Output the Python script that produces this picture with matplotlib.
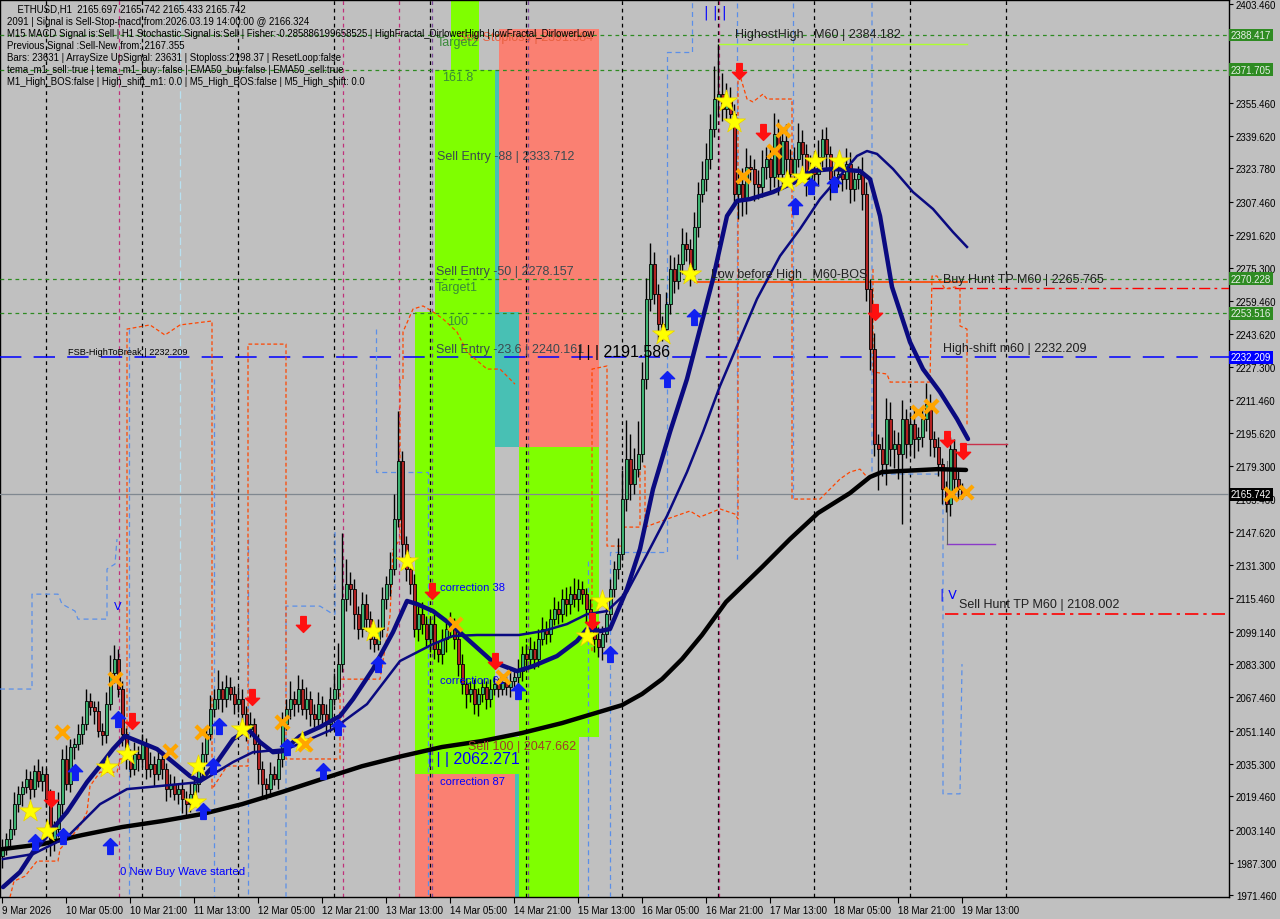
import numpy as np
import matplotlib.pyplot as plt
from matplotlib.path import Path
from matplotlib.patches import Rectangle
import matplotlib.transforms as mtransforms

# ETHUSD H1 candles, 9 Mar 13:00 -> 19 Mar 14:00 (one per hour)
first_open = 1990.5
closes = [
    1994.8, 1998.7, 2003.5, 2015.6, 2020.5, 2023.9, 2027.8, 2022.9, 2031.6, 2026.8,
    2030.2, 2018.1, 1998.7, 2003.5, 2015.6, 2037.5, 2025.3, 2043.3, 2044.7, 2049.6,
    2054.4, 2065.6, 2062.7, 2060.7, 2051.0, 2049.1, 2064.1, 2079.1, 2085.9, 2071.4,
    2049.6, 2037.5, 2032.6, 2039.9, 2037.5, 2044.7, 2032.6, 2035.0, 2030.2, 2037.5,
    2032.6, 2022.9, 2025.3, 2020.5, 2022.9, 2018.1, 2015.6, 2020.5, 2025.3, 2032.6,
    2039.9, 2049.6, 2061.7, 2066.5, 2071.4, 2066.5, 2072.4, 2069.0, 2064.1, 2066.5,
    2059.3, 2052.0, 2054.4, 2044.7, 2032.6, 2025.3, 2022.9, 2030.2, 2027.8, 2037.5,
    2054.4, 2061.7, 2066.5, 2064.1, 2071.4, 2061.7, 2066.5, 2059.3, 2056.8, 2064.1,
    2059.3, 2054.4, 2066.5, 2071.4, 2083.5, 2115.0, 2122.3, 2119.9, 2107.7, 2100.5,
    2112.6, 2105.3, 2095.6, 2093.2, 2100.5, 2115.0, 2122.3, 2129.6, 2153.8, 2182.0,
    2141.7, 2129.6, 2122.3, 2100.5, 2107.7, 2102.9, 2095.6, 2102.9, 2090.8, 2088.4,
    2095.6, 2100.5, 2102.9, 2095.6, 2083.5, 2073.8, 2069.0, 2071.4, 2064.1, 2069.0,
    2072.4, 2066.5, 2071.4, 2073.8, 2071.4, 2074.8, 2072.4, 2075.3, 2077.2, 2080.1,
    2088.4, 2085.9, 2090.8, 2085.9, 2095.6, 2100.5, 2098.1, 2105.3, 2110.2, 2107.7,
    2115.0, 2112.6, 2117.4, 2115.0, 2119.9, 2117.4, 2110.2, 2102.9, 2095.6, 2091.7,
    2098.1, 2107.7, 2119.9, 2129.6, 2136.8, 2163.5, 2182.9, 2170.8, 2178.0, 2185.3,
    2221.7, 2260.5, 2277.4, 2262.9, 2248.3, 2245.9, 2258.0, 2275.0, 2269.2, 2277.4,
    2287.1, 2284.7, 2275.0, 2295.4, 2311.4, 2318.6, 2328.3, 2342.9, 2357.4, 2359.8,
    2352.6, 2357.4, 2350.1, 2311.4, 2316.2, 2308.9, 2324.5, 2323.5, 2316.2, 2314.8,
    2324.5, 2328.3, 2319.6, 2340.5, 2321.1, 2337.1, 2328.3, 2321.1, 2328.3, 2336.6,
    2330.8, 2318.6, 2323.5, 2321.1, 2329.3, 2338.0, 2330.8, 2318.6, 2319.6, 2321.1,
    2318.6, 2325.9, 2313.8, 2318.6, 2321.1, 2311.4, 2265.3, 2236.2, 2190.2, 2187.7,
    2180.5, 2202.3, 2187.7, 2190.2, 2185.3, 2202.3, 2190.2, 2199.9, 2192.6, 2193.6,
    2202.3, 2209.6, 2192.6, 2188.7, 2180.5, 2168.3, 2161.1, 2187.7, 2173.2, 2168.3,
    2165.697, 2165.742,
]
wick_up = [
    4, 3, 5, 6, 4, 3, 5, 4, 3, 6,
    4, 3, 5, 4, 6, 5, 7, 4, 3, 5,
    4, 6, 4, 3, 5, 4, 6, 9, 7, 5,
    4, 3, 5, 6, 4, 5, 3, 6, 4, 5,
    4, 3, 5, 4, 3, 5, 4, 6, 4, 5,
    6, 4, 7, 5, 9, 4, 6, 5, 4, 6,
    5, 4, 6, 3, 5, 4, 3, 6, 4, 5,
    6, 5, 9, 4, 7, 5, 6, 4, 5, 6,
    4, 5, 6, 8, 10, 32, 12, 6, 5, 4,
    6, 5, 4, 3, 5, 6, 4, 8, 12, 24,
    5, 4, 6, 5, 4, 6, 4, 3, 5, 4,
    5, 4, 6, 3, 4, 5, 3, 4, 5, 3,
    4, 3, 5, 4, 3, 4, 3, 5, 4, 6,
    4, 5, 6, 4, 5, 6, 4, 5, 6, 4,
    5, 6, 4, 8, 5, 4, 3, 5, 4, 6,
    4, 6, 5, 4, 8, 14, 19, 12, 10, 16,
    8, 10, 10, 6, 5, 4, 6, 7, 6, 5,
    8, 6, 5, 7, 6, 9, 8, 7, 16, 24.4,
    10, 8, 6, 5, 6, 8, 9, 6, 5, 7,
    8, 6, 5, 10, 7, 6, 8, 5, 6, 9,
    6, 5, 7, 6, 8, 5, 6, 4, 5, 6,
    5, 8, 6, 5, 4, 8, 6, 5, 8, 5,
    6, 10, 8, 7, 6, 9, 5, 6, 7, 5,
    6, 10, 5, 4, 5, 3, 4, 6, 5, 4,
    3, 0.05,
]
wick_dn = [
    6, 4, 5, 3, 4, 6, 3, 5, 4, 3,
    5, 4, 8, 6, 4, 5, 3, 4, 6, 3,
    5, 3, 4, 6, 3, 5, 4, 3, 5, 4,
    6, 5, 4, 3, 6, 4, 5, 4, 6, 3,
    5, 6, 4, 3, 5, 7, 6, 4, 3, 4,
    4, 5, 3, 4, 5, 6, 4, 3, 5, 4,
    5, 6, 4, 5, 7, 6, 5, 4, 3, 5,
    4, 3, 5, 6, 4, 3, 5, 6, 4, 5,
    5, 6, 4, 3, 5, 4, 6, 8, 7, 5,
    4, 6, 5, 4, 3, 4, 5, 6, 3, 4,
    8, 6, 5, 4, 6, 5, 4, 6, 5, 4,
    5, 6, 4, 5, 6, 5, 7, 4, 5, 6,
    4, 5, 4, 3, 4, 3, 4, 5, 3, 4,
    5, 4, 3, 5, 4, 3, 5, 4, 3, 5,
    4, 6, 5, 4, 6, 5, 7, 4, 6, 5,
    6, 4, 3, 4, 5, 3, 6, 8, 5, 4,
    4, 5, 6, 5, 8, 6, 4, 5, 6, 4,
    5, 6, 8, 4, 5, 4, 6, 5, 4, 8,
    6, 5, 4, 6, 12, 8, 7, 6, 8, 6,
    5, 6, 8, 5, 10, 6, 7, 6, 5, 4,
    6, 8, 5, 7, 6, 5, 8, 10, 6, 5,
    6, 5, 7, 6, 5, 8, 6, 10, 6, 20,
    6, 10, 8, 9, 12, 34, 7, 6, 9, 6,
    5, 6, 8, 5, 6, 7, 4, 6, 8, 5,
    2, 0.26,
]

date_labels = ["9 Mar 2026", "10 Mar 05:00", "10 Mar 21:00", "11 Mar 13:00", "12 Mar 05:00",
               "12 Mar 21:00", "13 Mar 13:00", "14 Mar 05:00", "14 Mar 21:00", "15 Mar 13:00",
               "16 Mar 05:00", "16 Mar 21:00", "17 Mar 13:00", "18 Mar 05:00", "18 Mar 21:00",
               "19 Mar 13:00"]
price_ticks = [2403.460, 2355.460, 2339.620, 2323.780, 2307.460, 2291.620, 2275.300,
               2259.460, 2243.620, 2227.300, 2211.460, 2195.620, 2179.300, 2163.460, 2147.620,
               2131.300, 2115.460, 2099.140, 2083.300, 2067.460, 2051.140, 2035.300, 2019.460,
               2003.140, 1987.300, 1971.460]

# moving averages (bar index, price)
ma_slow_x = [0, 10, 20, 30, 40, 50, 60, 70, 80, 90, 100, 110, 120, 130, 140, 150, 155, 160,
             165, 170, 175, 181, 190, 197, 204, 212, 217, 220, 234, 241]
ma_slow_y = [1993.8, 1996.2, 2000.6, 2004.5, 2007.4, 2010.8, 2015.6, 2021.5, 2027.8, 2034.0,
             2038.9, 2043.3, 2046.2, 2050.1, 2054.9, 2060.7, 2063.6, 2069.0, 2076.2, 2085.9,
             2097.6, 2113.6, 2130.5, 2144.1, 2156.7, 2166.4, 2174.2, 2176.6, 2178.0, 2177.6]
ma_fast_x = [0.25, 4.5, 7.75, 12, 16.25, 21.25, 24.5, 27.75, 30.75, 34.5, 38.75, 42.75, 47,
             49.5, 53.75, 57.75, 61.5, 64.5, 67.75, 70.25, 74.5, 79.5, 84.5, 87.75, 92.75,
             97.75, 101.25, 103.75, 107.75, 112.75, 117.75, 122.75, 128.75, 132.75, 138.75,
             143.75, 146.25, 149.5, 152, 156.25, 159.5, 162.75, 167, 171.25, 174.5, 177.75,
             181.25, 183.75, 187, 192.75, 198.75, 202, 207.75, 214.5, 217, 219.5, 222.5, 227,
             230.25, 234.5, 238.75, 241.5]
ma_fast_y = [1975.4, 1982.7, 1992.4, 2002.1, 2011.8, 2026.3, 2034.1, 2042.3, 2048.6, 2045.7,
             2042.3, 2036.0, 2029.2, 2026.8, 2036.0, 2047.1, 2052.0, 2045.7, 2040.8, 2041.3,
             2048.6, 2053.0, 2058.3, 2066.5, 2081.1, 2099.0, 2114.1, 2112.6, 2109.2, 2101.9,
             2093.2, 2084.5, 2080.1, 2082.5, 2087.4, 2094.7, 2100.5, 2099.5, 2100.5, 2119.9,
             2139.3, 2168.3, 2196.0, 2221.7, 2245.9, 2270.2, 2300.7, 2308.0, 2308.9, 2312.3,
             2317.7, 2322.5, 2323.5, 2322.5, 2318.6, 2300.7, 2266.3, 2239.6, 2226.5, 2215.4,
             2202.3, 2192.6]
ma_mid_x = [0.25, 7.75, 16.25, 24.5, 31.25, 39.5, 49.5, 57.75, 62.75, 71.25, 82.75, 91.25,
            99.5, 107.75, 112.75, 118.75, 129.25, 135.25, 141.25, 146.25, 151.25, 156.25,
            160.25, 166.25, 171.25, 175.25, 179.5, 184.5, 188.75, 194.5, 199.5, 204.5, 209.5,
            213.75, 216.25, 218.75, 222.75, 227.75, 232.75, 237.75, 241.25]
ma_mid_y = [1989.0, 1991.4, 1999.6, 2015.6, 2022.9, 2024.4, 2026.3, 2036.0, 2040.8, 2042.3,
            2052.0, 2064.1, 2085.0, 2093.2, 2097.1, 2097.6, 2097.6, 2099.5, 2102.9, 2107.7,
            2109.2, 2118.4, 2133.0, 2155.3, 2176.6, 2196.0, 2218.3, 2241.1, 2260.5, 2281.3,
            2294.4, 2308.9, 2320.1, 2329.8, 2332.2, 2330.8, 2323.5, 2312.3, 2304.1, 2292.9,
            2285.7]

# signal markers (bar index, price)
star_x = [7, 11.25, 26.25, 31.25, 49, 48.25, 60, 75, 92.75, 101.25, 150, 146.25, 165.25, 172,
          181, 183, 196.25, 200, 203.25, 209.25]
star_y = [2012.2, 2002.5, 2033.6, 2039.9, 2034.1, 2016.6, 2052.0, 2045.7, 2099.5, 2133.4,
          2114.0, 2097.1, 2243.5, 2272.6, 2356.5, 2346.3, 2317.7, 2319.6, 2327.4, 2327.4]
cross_x = [15, 28.25, 42, 50, 70, 75.75, 113.25, 125.25, 185.25, 193, 195.25, 229, 232.25,
           237.25, 241]
cross_y = [2050.5, 2076.2, 2041.3, 2050.5, 2055.4, 2044.7, 2102.9, 2077.2, 2320.1, 2332.2,
           2342.4, 2205.7, 2208.6, 2165.9, 2166.9]
up_x = [8.25, 15.25, 18.25, 29, 27, 52.75, 50.25, 54.25, 71.25, 80.25, 84, 94, 129, 152,
        166.25, 173, 198.25, 202.25, 208]
up_y = [1997.2, 2000.1, 2031.1, 2056.8, 1995.3, 2034.1, 2012.2, 2053.4, 2043.3, 2031.6,
        2053.0, 2083.5, 2070.4, 2088.4, 2221.7, 2251.7, 2305.5, 2315.2, 2316.2]
down_x = [12.25, 32.5, 62.5, 75.25, 107.5, 123.25, 147.5, 184.25, 190.25, 218.25, 236.25, 240.25]
down_y = [2018.1, 2055.9, 2067.5, 2102.9, 2118.9, 2085.0, 2104.4, 2371.0, 2341.4, 2254.2,
          2192.6, 2186.8]

green_levels = [2388.417, 2371.705, 2270.228, 2253.516]
high_shift = 2232.209
last_price = 2165.742
buy_hunt_tp = 2265.765
sell_hunt_tp = 2108.002
highest_high = 2384.182
low_before_high = 2268.7

# fib / entry zones: (bar from, bar to, price low, price high, colour)
zones = [
    (112.25, 119.25, 2371.5, 2410.0, "#7FFF00"),
    (108.25, 123.25, 2030.2, 2371.5, "#7FFF00"),
    (103.25, 108.25, 2030.2, 2254.2, "#7FFF00"),
    (123.25, 124.25, 2254.2, 2371.5, "#48C0B4"),
    (124.25, 149.25, 2254.2, 2391.4, "#FA8072"),
    (123.25, 129.25, 2188.7, 2254.2, "#48C0B4"),
    (129.25, 149.25, 2188.7, 2254.2, "#FA8072"),
    (129.25, 149.25, 2048.1, 2188.7, "#7FFF00"),
    (123.25, 129.25, 2030.2, 2048.1, "#7FFF00"),
    (129.25, 144.25, 1960.0, 2048.1, "#7FFF00"),
    (103.25, 128.25, 1960.0, 2030.2, "#FA8072"),
    (128.25, 129.25, 1960.0, 2030.2, "#48C0B4"),
]

day_separators = [11 + 24 * k for k in range(11)]
magenta_lines = [29.25, 85.25, 99.25, 179.25]
violet_lines = [107.5, 131.5]
lightblue_lines = [44.5]

# channel step lines (bar index, price)
blue_paths = [
    ([-0.5, 7.5, 7.5, 14, 15, 18.25, 19, 26.25, 26.25, 28.25, 28.75],
     [2071.4, 2071.4, 2117.4, 2117.4, 2112.6, 2109.2, 2105.3, 2105.3, 2129.6, 2132.0, 2144.1]),
    ([31.75, 31.75], [2245.9, 1970.5]),
    ([53, 53], [2221.7, 1970.5]),
    ([61.5, 61.5], [2144.1, 1970.5]),
    ([71, 71, 79.5, 82.75, 83.25, 83.25], [1970.5, 2111.6, 2111.6, 2107.7, 2107.7, 2147.5]),
    ([93.5, 93.5, 106.5, 106.5], [2245.9, 2176.6, 2176.6, 1970.5]),
    ([146.5, 146.5], [2133.4, 1970.5]),
    ([152, 152, 165.25, 166.25, 166.25, 172.5, 172.5], [1970.5, 2137.8, 2137.8, 2137.8, 2380.2, 2380.2, 2406.0]),
    ([183.75, 183.75], [2404.0, 2134.4]),
    ([197.75, 197.75], [2404.0, 2163.5]),
    ([217.5, 217.5, 235.25, 235.25, 239.5, 240], [2404.0, 2175.6, 2175.6, 2020.6, 2020.6, 2083.5]),
]
orange_paths = [
    ([2, 3, 5.75, 8.75, 14, 14.5, 17.5, 19.5, 21.25, 22, 24.5, 28.75, 29.5, 31.25, 31.25, 37,
      40.75, 44.5, 52.5, 52.5, 56.25, 61.5, 61.5, 71, 71, 84.5, 84.5, 94.5, 95.75, 97, 97.75,
      99.5, 99.5],
     [1970.5, 1978.3, 1980.7, 1988.0, 1988.0, 1993.8, 2000.1, 2005.0, 2011.8, 2024.4, 2031.1,
      2031.1, 2037.5, 2037.5, 2245.9, 2247.9, 2243.0, 2247.9, 2249.8, 2022.9, 2034.1, 2034.1,
      2238.6, 2238.6, 2037.5, 2037.5, 2076.2, 2076.2, 2091.0, 2107.0, 2139.0, 2144.0, 2221.7]),
    ([100.25, 100.25, 102.75, 105.25, 107.5, 110.25, 113.75, 116.25, 121.25, 124.5, 126.25, 128.25],
     [2221.7, 2244.5, 2255.6, 2257.1, 2254.6, 2250.8, 2244.5, 2234.8, 2226.5, 2226.5, 2223.1, 2219.2]),
    ([147.5, 147.5, 151.25, 151.25, 155.25, 155.25, 159.5, 159.5, 160.75, 160.75, 166.25, 172,
      174.5, 179.5, 183.25, 184, 184, 186.25, 187.75, 190.25, 191.25, 197.5, 197.5, 204.5,
      209.5, 212, 214.5, 216.25, 217.75],
     [2089.8, 2226.5, 2228.0, 2140.7, 2140.7, 2149.9, 2149.9, 2179.5, 2179.5, 2149.9, 2153.8,
      2157.7, 2154.8, 2158.7, 2156.2, 2153.8, 2372.0, 2357.4, 2356.0, 2359.8, 2357.4, 2357.4,
      2163.5, 2163.5, 2173.2, 2176.6, 2178.0, 2174.2, 2174.7]),
    ([217.75, 217.75, 221.25, 222, 232, 232.5, 233.75, 235.75, 238.25, 239.5, 239.5, 241.25, 241.25],
     [2275.0, 2225.1, 2224.1, 2220.2, 2220.2, 2271.6, 2271.6, 2265.3, 2266.3, 2265.3, 2247.4,
      2245.9, 2198.9]),
]

info_lines = [
    "    ETHUSD,H1  2165.697 2165.742 2165.433 2165.742",
    "2091 | Signal is Sell-Stop-macd from:2026.03.19 14:00:00 @ 2166.324",
    "M15 MACD Signal is:Sell | H1 Stochastic Signal is:Sell | Fisher:-0.285886199658525 | HighFractal_DirlowerHigh | lowFractal_DirlowerLow",
    "Previous Signal :Sell-New from: 2167.355",
    "Bars: 23631 | ArraySize UpSignal: 23631 | Stoploss:2198.37 | ResetLoop:false",
    "tema_m1_sell: true | tema_m1_buy: false | EMA50_buy:false | EMA50_sell:true",
    "M1_High_BOS:false | High_shift_m1: 0.0 | M5_High_BOS:false | M5_High_shift: 0.0",
]

BG = "#C0C0C0"
plt.rcParams['font.family'] = ['DejaVu Sans']

fig = plt.figure(figsize=(12.8, 9.2), dpi=100, facecolor=BG)
ax = fig.add_axes([0.0, 22 / 920, 1229 / 1280, 897 / 920])
ax.set_facecolor(BG)
ax.set_xlim(-0.5, 306.75)
ax.set_ylim(1970.6, 2405.4)

# zones
for x0, x1, p0, p1, col in zones:
    ax.add_patch(Rectangle((x0, p0), x1 - x0, p1 - p0, facecolor=col, edgecolor='none', zorder=1))

# vertical separators
for d in day_separators:
    ax.axvline(d, color='black', lw=0.9, ls=(0, (3, 3)), zorder=2)
for d in magenta_lines:
    ax.axvline(d, color='#C0307A', lw=0.9, ls=(0, (3, 3)), zorder=2)
for d in violet_lines:
    ax.axvline(d, color='#7A4A9A', lw=0.9, ls=(0, (3, 3)), zorder=2)
for d in lightblue_lines:
    ax.axvline(d, color='#B8E0F0', lw=0.9, ls=(0, (6, 3)), zorder=2)

# horizontal levels
for lv in green_levels:
    ax.axhline(lv, color='#2E8B22', lw=0.9, ls=(0, (3, 3)), zorder=3)
ax.axhline(high_shift, color='blue', lw=1.1, ls=(0, (14, 8)), zorder=3)
ax.axhline(last_price, color='#808890', lw=0.9, zorder=3)
ax.plot([179.25, 241.25], [highest_high, highest_high], color='#ADFF2F', lw=1, zorder=3)
ax.plot([173.25, 241.25], [low_before_high, low_before_high], color='#FF4500', lw=1.2, zorder=3)
ax.plot([232.5, 306.75], [buy_hunt_tp, buy_hunt_tp], color='red', lw=1, ls=(0, (8, 3, 2, 3)), zorder=3)
ax.plot([235.75, 306.75], [sell_hunt_tp, sell_hunt_tp], color='red', lw=1.2, ls=(0, (8, 3, 2, 3)), zorder=3)
ax.plot([239.5, 251.25], [2190.2, 2190.2], color='#C8304A', lw=1, zorder=3)
ax.plot([236.25, 248.25], [2141.7, 2141.7], color='#8A3AC8', lw=1, zorder=3)
ax.plot([236.25, 236.25], [2181.9, 2141.7], color='#606060', lw=0.8, zorder=3)

# channel step lines
for xs, ys in blue_paths:
    ax.plot(xs, ys, color='#5A8FE8', lw=0.9, ls=(0, (4, 3)), zorder=3)
for xs, ys in orange_paths:
    ax.plot(xs, ys, color='#FF4500', lw=0.9, ls=(0, (3, 2)), zorder=3)

# candles
closes_a = np.array(closes)
opens = np.concatenate([[first_open], closes_a[:-1]])
idx = np.arange(len(closes_a))
tops = np.maximum(opens, closes_a)
bots = np.minimum(opens, closes_a)
highs = tops + np.array(wick_up)
lows = bots - np.array(wick_dn)
ax.vlines(idx, lows, highs, color='black', lw=1.0, zorder=4)
body_col = np.where(closes_a >= opens, '#3CB371', '#B22222')
ax.bar(idx, np.maximum(tops - bots, 0.4), bottom=bots, width=0.75, color=body_col,
       edgecolor='black', lw=0.6, zorder=4)

# moving averages
ax.plot(ma_slow_x, ma_slow_y, color='black', lw=3.2, zorder=5, solid_capstyle='round')
ax.plot(ma_mid_x, ma_mid_y, color='#0A0A80', lw=1.8, zorder=5)
ax.plot(ma_fast_x, ma_fast_y, color='#0A0A80', lw=3.2, zorder=5, solid_capstyle='round')

# markers
up_arrow = Path([(0, 1), (0.9, 0.1), (0.35, 0.1), (0.35, -1), (-0.35, -1), (-0.35, 0.1),
                 (-0.9, 0.1), (0, 1)],
                [Path.MOVETO] + [Path.LINETO] * 6 + [Path.CLOSEPOLY])
down_arrow = Path([(x, -y) for x, y in up_arrow.vertices], up_arrow.codes)
ax.scatter(star_x, star_y, marker='*', s=280, c='#FFFF00', edgecolors='#E8D000', lw=0.5, zorder=6)
ax.scatter(cross_x, cross_y, marker='x', s=90, c='#FFA500', lw=3, zorder=6)
ax.scatter(up_x, up_y, marker=up_arrow, s=130, c='#1020F0', zorder=6)
ax.scatter(down_x, down_y, marker=down_arrow, s=130, c='#FF1010', zorder=6)

# zone / level texts
dark = '#3A4A50'
grn = '#3A8A3A'
fz = 9
ax.text(114, 2387.5, "Sell Stoploss | 2391.584", color='#E86040', fontsize=fz,
        family='Liberation Sans', va='center', zorder=6)
ax.text(108.75, 2385.1, "Target2", color=grn, fontsize=fz, family='Liberation Sans', va='center', zorder=7)
ax.text(110, 2368.1, "161.8", color=grn, fontsize=fz, family='Liberation Sans', va='center', zorder=7)
ax.text(108.75, 2329.8, "Sell Entry -88 | 2333.712", color=dark, fontsize=fz,
        family='Liberation Sans', va='center', zorder=7)
ax.text(108.5, 2274.0, "Sell Entry -50 | 2278.157", color=dark, fontsize=fz,
        family='Liberation Sans', va='center', zorder=7)
ax.text(108.5, 2266.3, "Target1", color=grn, fontsize=fz, family='Liberation Sans', va='center', zorder=7)
ax.text(111.25, 2249.8, "100", color=grn, fontsize=fz, family='Liberation Sans', va='center', zorder=7)
ax.text(108.5, 2236.2, "Sell Entry -23.6 | 2240.161", color=dark, fontsize=fz,
        family='Liberation Sans', va='center', zorder=7)
ax.text(144, 2235.2, "| | | 2191.586", color='black', fontsize=11.5, family='Liberation Sans',
        va='center', zorder=7)
ax.text(183.25, 2388.9, "HighestHigh   M60 | 2384.182", color='#202020', fontsize=fz,
        family='Liberation Sans', va='center', zorder=7)
ax.text(177.25, 2272.6, "Low before High   M60-BOS", color='#202020', fontsize=fz,
        family='Liberation Sans', va='center', zorder=7)
ax.text(235.25, 2270.2, "Buy Hunt TP M60 | 2265.765", color='#202020', fontsize=fz,
        family='Liberation Sans', va='center', zorder=7)
ax.text(235.25, 2236.7, "High-shift m60 | 2232.209", color='#202020', fontsize=fz,
        family='Liberation Sans', va='center', zorder=7)
ax.text(239.25, 2112.6, "Sell Hunt TP M60 | 2108.002", color='#202020', fontsize=fz,
        family='Liberation Sans', va='center', zorder=7)
ax.text(16.5, 2235.2, "FSB-HighToBreak | 2232.209", color='black', fontsize=6.6,
        family='Liberation Sans', va='center', zorder=7)
ax.text(109.5, 2120.8, "correction 38", color='blue', fontsize=8, family='Liberation Sans',
        va='center', zorder=7)
ax.text(109.5, 2075.8, "correction 61", color='blue', fontsize=8, family='Liberation Sans',
        va='center', zorder=5)
ax.text(109.5, 2026.8, "correction 87", color='blue', fontsize=8, family='Liberation Sans',
        va='center', zorder=7)
ax.text(116.5, 2043.8, "Sell 100 | 2047.662", color='#A03A2A', fontsize=fz,
        family='Liberation Sans', va='center', zorder=7)
ax.text(106.5, 2037.9, "| | | 2062.271", color='blue', fontsize=11.5, family='Liberation Sans',
        va='center', zorder=7)
ax.text(29.5, 1983.2, "0 New Buy Wave started", color='blue', fontsize=8.2,
        family='Liberation Sans', va='center', zorder=7)
ax.text(175.5, 2399.5, "| | |", color='blue', fontsize=10, va='center', zorder=7)
ax.text(29, 2111.6, "V", color='blue', fontsize=8, va='center', ha='center', zorder=7)
ax.text(234.5, 2117.4, "| V", color='blue', fontsize=9, va='center', zorder=7)

# info panel (top left)
for k, line in enumerate(info_lines):
    ax.text(7 / 1229, 1 - (9 + 12 * k) / 897, line, transform=ax.transAxes, fontsize=6.9,
            family='Liberation Sans', color='black', va='center', zorder=8)

# axes styling
for s in ax.spines.values():
    s.set_color('black')
    s.set_linewidth(1)
ax.yaxis.tick_right()
ax.set_yticks(price_ticks)
ax.set_yticklabels([f"{p:.3f}" for p in price_ticks], fontsize=7, family='Liberation Sans')
ax.tick_params(axis='y', direction='out', length=3, pad=2, colors='black')
ax.set_xticks([16 * k for k in range(len(date_labels))])
ax.set_xticklabels(date_labels, fontsize=7, family='Liberation Sans')
for lab in ax.get_xticklabels():
    lab.set_horizontalalignment('left')
ax.tick_params(axis='x', direction='out', length=4, pad=2, colors='black')

# highlighted price labels on the right axis
trans = mtransforms.blended_transform_factory(ax.transAxes, ax.transData)
for lv in green_levels:
    ax.text(1.0015, lv, f"{lv:.3f}", transform=trans, fontsize=7, family='Liberation Sans',
            color='#E8F0E8', va='center', ha='left', clip_on=False, zorder=9,
            bbox=dict(boxstyle='square,pad=0.15', fc='#2E8B22', ec='none'))
ax.text(1.0015, high_shift, f"{high_shift:.3f}", transform=trans, fontsize=7,
        family='Liberation Sans', color='white', va='center', ha='left', clip_on=False, zorder=9,
        bbox=dict(boxstyle='square,pad=0.15', fc='#0000FF', ec='none'))
ax.text(1.0015, last_price, f"{last_price:.3f}", transform=trans, fontsize=7,
        family='Liberation Sans', color='white', va='center', ha='left', clip_on=False, zorder=9,
        bbox=dict(boxstyle='square,pad=0.15', fc='black', ec='none'))

fig.savefig("out.png", dpi=100, facecolor=BG)
